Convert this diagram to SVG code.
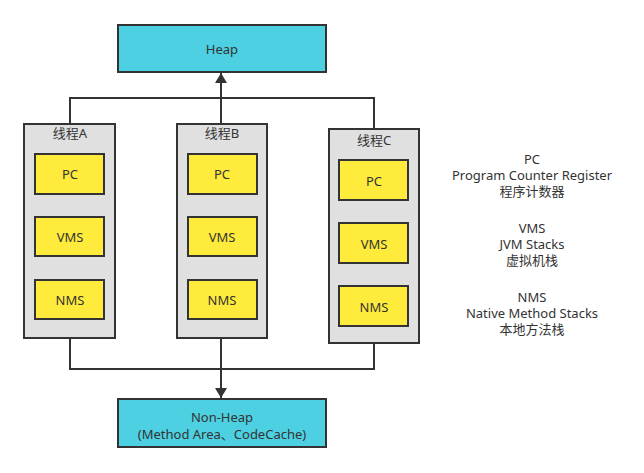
<svg xmlns="http://www.w3.org/2000/svg" width="644" height="473" viewBox="0 0 644 473">
<defs>
<style>
text{font-family:"Noto Sans","Noto Sans CJK SC",sans-serif;font-size:13px;fill:#333;text-anchor:middle;dominant-baseline:central}
.mem{fill:#4DD0E1;stroke:#333;stroke-width:2}
.thr{fill:#E0E0E0;stroke:#333;stroke-width:2}
.reg{fill:#FFEB3B;stroke:#333;stroke-width:2}
.ln{fill:none;stroke:#333;stroke-width:2}
</style>
<marker id="ah" viewBox="0 0 10 12" refX="10" refY="6" markerWidth="10" markerHeight="12" markerUnits="userSpaceOnUse" orient="auto"><path d="M0,0 L10,6 L0,12 Z" fill="#333"/></marker>
</defs>
<g id="connectors">
<path class="ln" d="M70,123 V98 H374 V129"/>
<path class="ln" d="M221,123 V73" marker-end="url(#ah)"/>
<path class="ln" d="M70,338 V369 H374 V343"/>
<path class="ln" d="M221,338 V398" marker-end="url(#ah)"/>
</g>
<g id="heap"><rect class="mem" x="118" y="25" width="208" height="47"/><text x="222" y="49">Heap</text></g>
<g id="nonheap"><rect class="mem" x="118" y="399" width="208" height="48"/><text x="222" y="417">Non-Heap</text><text x="222" y="434">(Method Area、CodeCache)</text></g>
<g id="threadA"><rect class="thr" x="24" y="124" width="91" height="214"/><text x="70" y="133">线程A</text>
<rect class="reg" x="35" y="154" width="69" height="40"/><text x="70" y="174">PC</text>
<rect class="reg" x="35" y="217" width="69" height="39"/><text x="70" y="237">VMS</text>
<rect class="reg" x="35" y="280" width="69" height="39"/><text x="70" y="300">NMS</text></g>
<g id="threadB"><rect class="thr" x="177" y="124" width="90" height="214"/><text x="222" y="133">线程B</text>
<rect class="reg" x="188" y="154" width="69" height="40"/><text x="222" y="174">PC</text>
<rect class="reg" x="188" y="217" width="69" height="39"/><text x="222" y="237">VMS</text>
<rect class="reg" x="188" y="280" width="69" height="39"/><text x="222" y="300">NMS</text></g>
<g id="threadC"><rect class="thr" x="329" y="129" width="90" height="214"/><text x="374" y="140">线程C</text>
<rect class="reg" x="339" y="160" width="69" height="40"/><text x="374" y="181">PC</text>
<rect class="reg" x="339" y="223" width="69" height="40"/><text x="374" y="244">VMS</text>
<rect class="reg" x="339" y="286" width="69" height="40"/><text x="374" y="307">NMS</text></g>
<g id="legend">
<text x="532" y="159">PC</text><text x="532" y="175">Program Counter Register</text><text x="532" y="191">程序计数器</text>
<text x="532" y="228">VMS</text><text x="532" y="244">JVM Stacks</text><text x="532" y="260">虚拟机栈</text>
<text x="532" y="297">NMS</text><text x="532" y="313">Native Method Stacks</text><text x="532" y="329">本地方法栈</text>
</g>
</svg>
